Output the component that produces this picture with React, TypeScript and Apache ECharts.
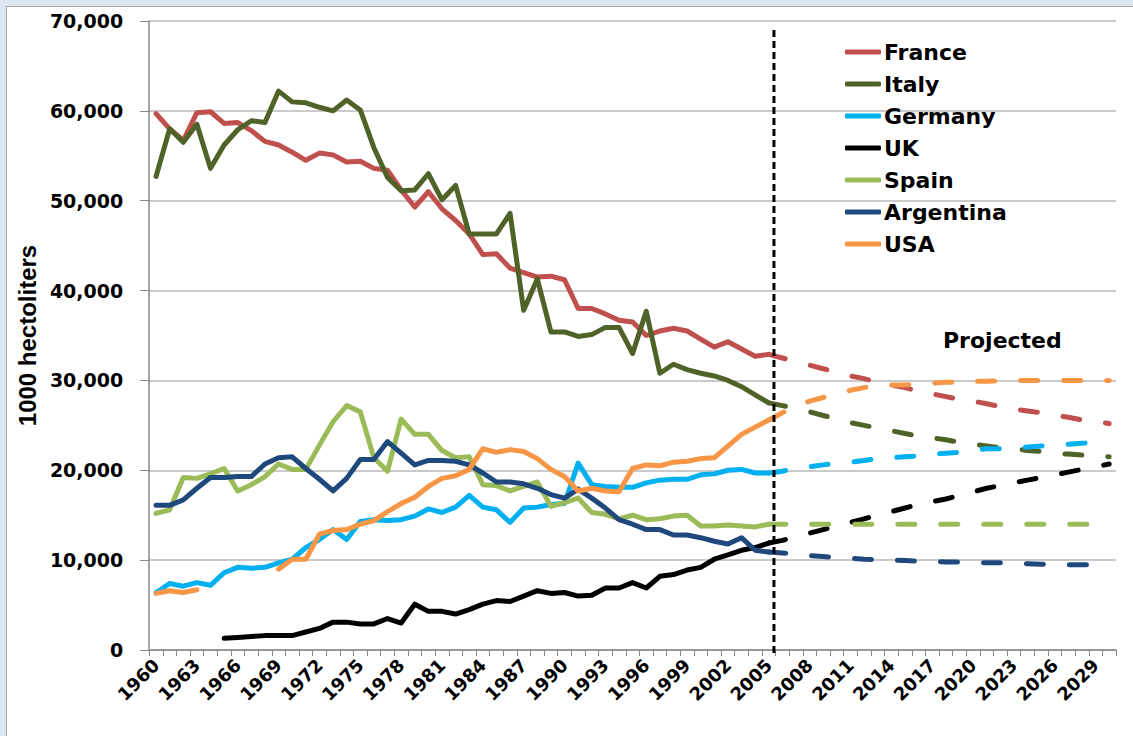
import { useEffect, useRef } from "react";
import * as echarts from "echarts";

const years = [
  "1960","1961","1962","1963","1964","1965","1966","1967","1968","1969",
  "1970","1971","1972","1973","1974","1975","1976","1977","1978","1979",
  "1980","1981","1982","1983","1984","1985","1986","1987","1988","1989",
  "1990","1991","1992","1993","1994","1995","1996","1997","1998","1999",
  "2000","2001","2002","2003","2004","2005","2006","2007","2008","2009",
  "2010","2011","2012","2013","2014","2015","2016","2017","2018","2019",
  "2020","2021","2022","2023","2024","2025","2026","2027","2028","2029","2030",
];

// Historical values 1960-2005 (1000 hectoliters)
const franceHist = [
  59700, 58000, 56700, 59800, 59900, 58600, 58700, 57800, 56600, 56200,
  55400, 54500, 55300, 55100, 54300, 54400, 53600, 53400, 51200, 49300,
  51000, 49100, 47800, 46300, 44000, 44100, 42500, 42000, 41500, 41600,
  41200, 38000, 38000, 37400, 36700, 36500, 35000, 35500, 35800, 35500,
  34600, 33700, 34300, 33500, 32700, 32900,
];
const italyHist = [
  52700, 58000, 56500, 58500, 53600, 56200, 57900, 58900, 58700, 62200,
  61000, 60900, 60400, 60000, 61200, 60100, 55900, 52600, 51100, 51200,
  53000, 50100, 51700, 46300, 46300, 46300, 48600, 37800, 41300, 35400,
  35400, 34900, 35100, 35900, 35900, 33000, 37700, 30800, 31800, 31200,
  30800, 30500, 30000, 29300, 28400, 27500,
];
const germanyHist = [
  6400, 7400, 7100, 7500, 7200, 8600, 9200, 9100, 9200, 9700,
  10100, 11400, 12300, 13400, 12300, 14300, 14500, 14400, 14500, 14900,
  15700, 15300, 15900, 17200, 15900, 15600, 14200, 15800, 15900, 16200,
  16300, 20800, 18400, 18200, 18100, 18100, 18600, 18900, 19000, 19000,
  19500, 19600, 20000, 20100, 19700, 19700,
];
const ukHist = [
  null, null, null, null, null, 1300, 1400, 1500, 1600, 1600,
  1600, 2000, 2400, 3100, 3100, 2900, 2900, 3500, 3000, 5100,
  4300, 4300, 4000, 4500, 5100, 5500, 5400, 6000, 6600, 6300,
  6400, 6000, 6100, 6900, 6900, 7500, 6900, 8200, 8400, 8900,
  9200, 10100, 10600, 11100, 11400, 11900,
];
const spainHist = [
  15200, 15600, 19200, 19100, 19600, 20200, 17700, 18400, 19300, 20700,
  20100, 20100, 22800, 25400, 27200, 26500, 21400, 19900, 25700, 24000,
  24000, 22200, 21400, 21500, 18400, 18300, 17700, 18200, 18700, 16000,
  16400, 16900, 15300, 15100, 14600, 15000, 14500, 14600, 14900, 15000,
  13800, 13800, 13900, 13800, 13700, 14000,
];
const argentinaHist = [
  16100, 16100, 16700, 18000, 19200, 19200, 19300, 19300, 20700, 21400,
  21500, 20200, 19000, 17700, 19100, 21200, 21200, 23200, 21900, 20600,
  21100, 21100, 21000, 20600, 19700, 18700, 18700, 18500, 18000, 17300,
  16900, 17900, 16900, 15800, 14500, 14000, 13400, 13400, 12800, 12800,
  12500, 12100, 11800, 12500, 11100, 10900,
];
const usaHist = [
  6300, 6600, 6400, 6700, null, null, null, null, null, 9000,
  10100, 10100, 12900, 13300, 13400, 14000, 14400, 15400, 16300, 17000,
  18200, 19100, 19400, 20100, 22400, 22000, 22300, 22100, 21300, 20100,
  19300, 17700, 18000, 17700, 17600, 20200, 20600, 20500, 20900, 21000,
  21300, 21400, 22700, 24000, 24800, 25600,
];

// Projected values 2005-2030
const franceProj = [
  32900, 32500, 32100, 31700, 31300, 30900, 30500, 30200, 29800, 29500,
  29200, 28800, 28500, 28200, 27900, 27700, 27400, 27100, 26800, 26600,
  26400, 26100, 25900, 25600, 25400, 25200,
];
const italyProj = [
  27500, 27200, 26900, 26500, 26100, 25700, 25300, 25000, 24700, 24400,
  24100, 23800, 23600, 23400, 23100, 22900, 22700, 22500, 22400, 22200,
  22100, 21900, 21800, 21700, 21600, 21500,
];
const germanyProj = [
  19700, 19900, 20200, 20400, 20600, 20800, 20900, 21100, 21300, 21400,
  21500, 21600, 21800, 21900, 22000, 22200, 22400, 22400, 22400, 22600,
  22700, 22800, 22900, 23000, 23100, 23200,
];
const ukProj = [
  11900, 12200, 12600, 13000, 13400, 13800, 14200, 14600, 15000, 15400,
  15800, 16200, 16500, 16800, 17200, 17600, 18000, 18300, 18600, 18900,
  19200, 19500, 19800, 20100, 20400, 20700,
];
const spainProj = [
  14000, 14000, 14000, 14000, 14000, 14000, 14000, 14000, 14000, 14000,
  14000, 14000, 14000, 14000, 14000, 14000, 14000, 14000, 14000, 14000,
  14000, 14000, 14000, 14000, 14000, 14000,
];
const argentinaProj = [
  10900, 10800, 10700, 10500, 10400, 10300, 10200, 10100, 10050, 10000,
  9950, 9900, 9850, 9800, 9800, 9750, 9700, 9700, 9650, 9600,
  9550, 9500, 9500, 9500, 9500, 9500,
];
const usaProj = [
  25600, 26400, 27100, 27700, 28100, 28500, 28900, 29200, 29400, 29500,
  29500, 29600, 29700, 29800, 29800, 29900, 29900, 29950, 30000, 30000,
  30000, 30000, 30000, 30000, 30000, 30000,
];

const countries = ["France", "Italy", "Germany", "UK", "Spain", "Argentina", "USA"];
const colors = ["#C0504D", "#4F6228", "#00B0F0", "#000000", "#9BBB59", "#1F497D", "#F79646"];
const hist = [franceHist, italyHist, germanyHist, ukHist, spainHist, argentinaHist, usaHist];
const proj = [franceProj, italyProj, germanyProj, ukProj, spainProj, argentinaProj, usaProj];
const projStartYear = "2005";
const dividerYear = "2005";

const FONT = "DejaVu Sans";

export default function App() {
  const ref = useRef<HTMLDivElement>(null);

  useEffect(() => {
    const el = ref.current;
    if (!el) return;
    const chart = echarts.init(el, null, { renderer: "svg" });

    const startIdx = years.indexOf(projStartYear);
    const series: any[] = [];
    countries.forEach((name, i) => {
      const h = years.map((_, k) => (k < hist[i].length ? hist[i][k] : null));
      series.push({
        name,
        type: "line",
        data: h,
        showSymbol: false,
        symbol: "none",
        connectNulls: false,
        lineStyle: { color: colors[i], width: 5, cap: "round", join: "round" },
        itemStyle: { color: colors[i] },
        z: 3,
      });
    });
    countries.forEach((name, i) => {
      const p = years.map((_, k) =>
        k >= startIdx && k - startIdx < proj[i].length ? proj[i][k - startIdx] : null
      );
      series.push({
        name: name + " (projected)",
        type: "line",
        data: p,
        showSymbol: false,
        symbol: "none",
        lineStyle: { color: colors[i], width: 5, type: [17, 26], cap: "round", join: "round" },
        itemStyle: { color: colors[i] },
        z: 2,
      });
    });

    chart.setOption({
      animation: false,
      backgroundColor: "#ffffff",
      grid: { left: 140, right: 18, top: 14, bottom: 87, containLabel: false },
      legend: {
        data: countries,
        orient: "vertical",
        left: 833,
        top: 27,
        icon: "roundRect",
        itemWidth: 36,
        itemHeight: 5,
        itemGap: 6,
        textStyle: {
          fontFamily: FONT,
          fontWeight: "bold",
          fontSize: 22,
          color: "#000",
          lineHeight: 26,
          padding: [0, 0, 0, -2],
        },
      },
      xAxis: {
        type: "category",
        data: years,
        boundaryGap: true,
        axisLine: { lineStyle: { color: "#878787", width: 1.5 } },
        axisTick: { show: true, interval: 0, length: 6, lineStyle: { color: "#878787", width: 1 } },
        axisLabel: {
          interval: 2,
          rotate: 45,
          margin: 12,
          fontFamily: FONT,
          fontWeight: "bold",
          fontSize: 18,
          color: "#000",
        },
        splitLine: { show: false },
      },
      yAxis: {
        type: "value",
        min: 0,
        max: 70000,
        interval: 10000,
        name: "1000 hectoliters",
        nameLocation: "middle",
        nameRotate: 90,
        nameGap: 97,
        nameTextStyle: {
          fontFamily: "Liberation Sans",
          fontWeight: "bold",
          fontSize: 24,
          color: "#000",
        },
        axisLine: { show: true, lineStyle: { color: "#878787", width: 1.5 } },
        axisTick: { show: true, length: 9, lineStyle: { color: "#878787", width: 1 } },
        axisLabel: {
          margin: 26,
          fontFamily: FONT,
          fontWeight: "bold",
          fontSize: 19,
          color: "#000",
        },
        splitLine: { lineStyle: { color: "#b8b8b8", width: 1.5 } },
      },
      series,
    });

    const x0 = chart.convertToPixel({ xAxisIndex: 0 }, dividerYear) as number;
    const x1 = chart.convertToPixel({ xAxisIndex: 0 }, years[years.indexOf(dividerYear) + 1]) as number;
    const xLine = x0 + (x1 - x0) * 0.38;
    const yTop = chart.convertToPixel({ yAxisIndex: 0 }, 69000) as number;
    const yBot = (chart.convertToPixel({ yAxisIndex: 0 }, 0) as number) + 3;

    chart.setOption({
      graphic: [
        {
          type: "line",
          shape: { x1: xLine, y1: yTop, x2: xLine, y2: yBot },
          style: { stroke: "#000", lineWidth: 3, lineDash: [7, 4] },
          z: 10,
        },
        {
          type: "text",
          left: 936,
          top: 322,
          style: {
            text: "Projected",
            fontFamily: FONT,
            fontWeight: "bold",
            fontSize: 22,
            fill: "#000",
          },
          z: 10,
        },
      ],
    });

    return () => chart.dispose();
  }, []);

  return (
    <div
      style={{
        position: "fixed",
        left: 0,
        top: 0,
        width: 1133,
        height: 736,
        background: "#dde6f1",
        overflow: "hidden",
      }}
    >
      <div
        ref={ref}
        style={{
          position: "absolute",
          left: 6,
          top: 6,
          width: 1127,
          height: 730,
          borderLeft: "1px solid #a6a6a6",
          borderTop: "1px solid #a6a6a6",
          background: "#fff",
        }}
      />
    </div>
  );
}
